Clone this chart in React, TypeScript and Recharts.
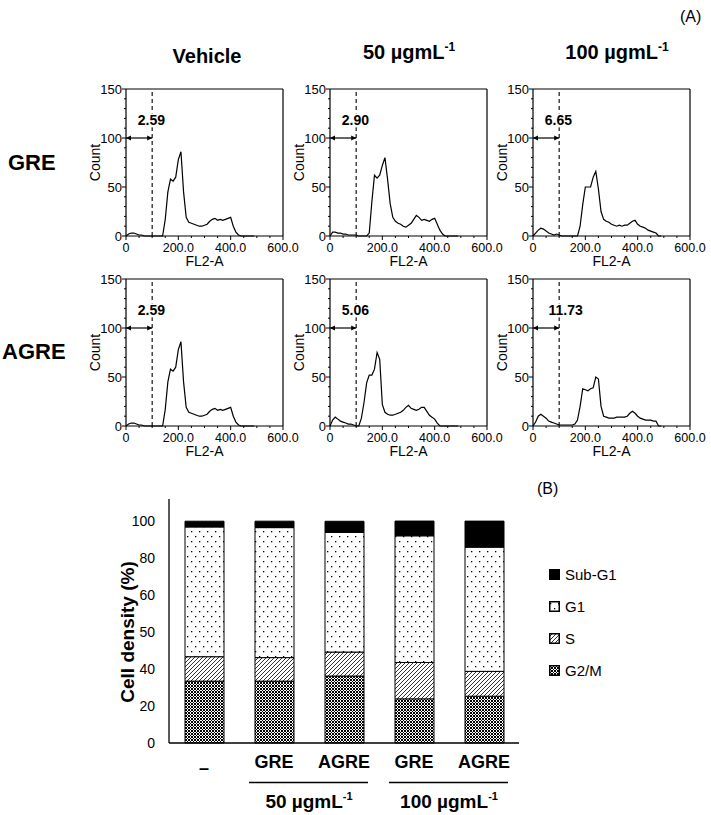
import React from 'react'
import { LineChart, Line, XAxis, YAxis, ReferenceLine, ReferenceDot, BarChart, Bar, Legend } from 'recharts'

const FONT = '"Liberation Sans", Arial, Helvetica, sans-serif'

// FL2-A bins shared by all six histograms
const FL2 = [
  0, 10, 20, 30, 40, 50, 60, 70, 80, 90,
  100, 110, 120, 130, 140, 150, 160, 170, 180, 190,
  200, 210, 220, 230, 240, 250, 260, 270, 280, 290,
  300, 310, 320, 330, 340, 350, 360, 370, 380, 390,
  400, 410, 420, 430, 440, 450, 460, 470, 480, 490,
]

// counts
const VEHICLE = [
  0, 2, 3, 3, 2, 1, 1, 0, 0, 0,
  0, 0, 0, 0, 0, 17, 45, 58, 56, 60,
  78, 86, 45, 19, 14, 13, 12, 11, 10, 10,
  11, 12, 15, 17, 18, 16, 17, 16, 17, 18,
  19, 10, 4, 1, 0, 0, 0, 0, 0, 0,
]
const GRE_50 = [
  0, 4, 4, 3, 3, 2, 2, 1, 1, 1,
  1, 0, 0, 0, 0, 3, 35, 62, 59, 62,
  72, 80, 58, 33, 19, 15, 13, 12, 10, 9,
  11, 13, 17, 21, 19, 16, 17, 16, 15, 17,
  18, 12, 6, 2, 0, 0, 0, 0, 0, 0,
]
const GRE_100 = [
  0, 3, 6, 8, 7, 5, 3, 2, 1, 2,
  1, 0, 0, 0, 0, 0, 0, 0, 10, 32,
  50, 50, 50, 60, 66, 48, 25, 17, 15, 14,
  12, 11, 10, 11, 10, 11, 11, 13, 15, 16,
  12, 10, 9, 8, 6, 5, 4, 3, 0, 0,
]
const AGRE_50 = [
  0, 6, 9, 7, 5, 4, 3, 2, 2, 1,
  0, 0, 8, 24, 44, 52, 52, 58, 75, 68,
  22, 14, 12, 11, 11, 12, 13, 14, 16, 19,
  21, 18, 17, 16, 17, 19, 19, 15, 11, 9,
  7, 3, 0, 0, 0, 0, 0, 0, 0, 0,
]
const AGRE_100 = [
  0, 4, 10, 12, 10, 8, 5, 4, 3, 2,
  1, 1, 1, 1, 1, 1, 2, 6, 20, 38,
  37, 36, 38, 39, 50, 48, 20, 10, 9, 8,
  8, 8, 9, 9, 9, 9, 10, 13, 15, 13,
  10, 8, 7, 6, 6, 6, 5, 5, 0, 0,
]

const PCT_GRE = ['2.59', '2.90', '6.65']
const PCT_AGRE = ['2.59', '5.06', '11.73']

const HIST_Y_TICKS = [0, 10, 20, 30, 40, 50, 60, 70, 80, 90, 100, 110, 120, 130, 140, 150]
const HIST_X_TICKS = [0, 50, 100, 150, 200, 250, 300, 350, 400, 450, 500, 550, 600]

// (B) stacked bars
const CATEGORIES = ['–', 'GRE', 'AGRE', 'GRE', 'AGRE']
const G2M = [27.9, 27.9, 30.2, 19.9, 21.1]
const S_PHASE = [11.0, 10.6, 10.8, 16.4, 11.2]
const G1 = [58.5, 58.6, 53.9, 57.1, 56.0]
const SUB_G1 = [2.59, 2.9, 5.06, 6.65, 11.73]
const BAR_Y_TICKS = [0, 20, 40, 60, 80, 100]
const BAR_Y_LABELS = ['0', '20', '40', '50', '60', '80', '100']
const GROUPS = ['50 µgmL', '100 µgmL']

const COL_LEFT = [126, 330, 533]
const ROW_TOP = [89, 279]
const BAND = 70

function HistYTick(props: any) {
  const { x, y, payload } = props
  const v = payload.value
  const major = v % 50 === 0
  return (
    <g>
      <line x1={x} x2={x - (major ? 4 : 2)} y1={y} y2={y} stroke="#000" />
      {major && (
        <text x={x - 4} y={y} textAnchor="end" dominantBaseline="central" fontSize={13} fontFamily={FONT} fill="#000">
          {v}
        </text>
      )}
    </g>
  )
}

function HistXTick(props: any) {
  const { x, y, payload } = props
  const v = payload.value
  const major = v % 200 === 0
  return (
    <g>
      <line x1={x} x2={x} y1={y} y2={y + (major ? 4 : 2)} stroke="#000" />
      {major && (
        <text x={x} y={y + 12} textAnchor="middle" dominantBaseline="central" fontSize={12.5} fontFamily={FONT} fill="#000">
          {v === 0 ? '0' : v.toFixed(1)}
        </text>
      )}
    </g>
  )
}

const ArrowShape = (p: any) => {
  const { x1, y1, x2, y2 } = p
  return (
    <g>
      <line x1={x1} y1={y1} x2={x2} y2={y2} stroke="#000" strokeWidth={1.2} />
      <path d={`M${x1},${y1} l5,-2.5 l0,5 Z`} fill="#000" />
      <path d={`M${x2},${y2} l-5,-2.5 l0,5 Z`} fill="#000" />
    </g>
  )
}

function Histogram({ values, pct, left, top, labelX = 97 }: { values: number[]; pct: string; left: number; top: number; labelX?: number }) {
  const data = FL2.map((x, i) => ({ x, count: values[i] }))
  return (
    <div style={{ position: 'absolute', left: left - 45, top: top - 10 }}>
      <LineChart width={222} height={192} data={data} margin={{ top: 10, right: 20, left: 0, bottom: 0 }}>
        <XAxis
          dataKey="x"
          type="number"
          domain={[0, 600]}
          ticks={HIST_X_TICKS}
          interval={0}
          tick={HistXTick}
          tickLine={false}
          tickSize={0}
          tickMargin={0}
          height={35}
          axisLine={{ stroke: '#000', strokeWidth: 1.2 }}
          label={(p: any) => {
            const vb = p.viewBox
            return (
              <text x={vb.x + vb.width / 2} y={vb.y + 25} textAnchor="middle" dominantBaseline="central" fontSize={14} fontFamily={FONT} fill="#000">
                FL2-A
              </text>
            )
          }}
        />
        <YAxis
          type="number"
          domain={[0, 150]}
          ticks={HIST_Y_TICKS}
          interval={0}
          tick={HistYTick}
          tickLine={false}
          tickSize={0}
          tickMargin={0}
          width={45}
          axisLine={{ stroke: '#000', strokeWidth: 1.2 }}
          label={(p: any) => {
            const vb = p.viewBox
            const cx = vb.x + vb.width - 31
            const cy = vb.y + vb.height / 2
            return (
              <text x={cx} y={cy} transform={`rotate(-90 ${cx} ${cy})`} textAnchor="middle" dominantBaseline="central" fontSize={14} fontFamily={FONT} fill="#000">
                Count
              </text>
            )
          }}
        />
        <ReferenceLine y={150} stroke="#000" strokeWidth={1.2} />
        <ReferenceLine x={600} stroke="#000" strokeWidth={1.2} />
        <ReferenceLine x={100} stroke="#000" strokeWidth={1.1} strokeDasharray="4 3" />
        <ReferenceLine segment={[{ x: 0, y: 100 }, { x: 100, y: 100 }]} shape={ArrowShape} />
        <ReferenceDot
          x={labelX}
          y={118}
          r={0}
          shape={(p: any) => (
            <g>
              <rect x={p.cx - pct.length * 4.3} y={p.cy - 7} width={pct.length * 8.6} height={14} fill="#fff" />
              <text x={p.cx} y={p.cy} textAnchor="middle" dominantBaseline="central" fontSize={14} fontWeight="bold" fontFamily={FONT} fill="#000">
                {pct}
              </text>
            </g>
          )}
        />
        <Line dataKey="count" type="linear" stroke="#000" strokeWidth={1.2} dot={false} isAnimationActive={false} />
      </LineChart>
    </div>
  )
}

function BarXTick(props: any) {
  const { x, y, payload, index } = props
  const g = index === 1 ? 0 : index === 3 ? 1 : -1
  return (
    <g fontFamily={FONT} fontWeight="bold" fill="#000">
      <text x={x} y={y + (index === 0 ? 31 : 25)} textAnchor="middle" fontSize={18}>
        {payload.value}
      </text>
      {g >= 0 && (
        <g>
          <line x1={x - 25} x2={x + BAND + 24} y1={y + 39.5} y2={y + 39.5} stroke="#000" strokeWidth={1.3} />
          <text x={x + BAND / 2} y={y + 65} textAnchor="middle" fontSize={19}>
            {GROUPS[g]}
            <tspan fontSize={11} dy={-8}>-1</tspan>
          </text>
        </g>
      )}
    </g>
  )
}

const SERIES = [
  { key: 'g2m', name: 'G2/M', fill: 'url(#pat-cross)' },
  { key: 's', name: 'S', fill: 'url(#pat-hatch)' },
  { key: 'g1', name: 'G1', fill: 'url(#pat-dots)' },
  { key: 'sub', name: 'Sub-G1', fill: '#000' },
]

function BarLegend() {
  const items = [...SERIES].reverse()
  return (
    <div style={{ fontFamily: FONT, fontSize: 15, color: '#000' }}>
      {items.map((it) => (
        <div key={it.key} style={{ display: 'flex', alignItems: 'center', height: 32 }}>
          <svg width={11} height={11} style={{ marginRight: 5 }}>
            <rect x={0.75} y={0.75} width={9.5} height={9.5} fill={it.fill} stroke="#000" strokeWidth={1.5} />
          </svg>
          <span>{it.name}</span>
        </div>
      ))}
    </div>
  )
}

function CellCycleBars() {
  const data = CATEGORIES.map((name, i) => ({ name, g2m: G2M[i], s: S_PHASE[i], g1: G1[i], sub: SUB_G1[i] }))
  const labelPos = BAR_Y_LABELS.map((_, i) => (i * 100) / (BAR_Y_LABELS.length - 1))
  return (
    <div style={{ position: 'absolute', left: 90, top: 494 }}>
      <BarChart width={620} height={319} data={data} margin={{ top: 5, right: 191, bottom: 0, left: 0 }} barSize={39}>
        <defs>
          <pattern id="pat-dots" patternUnits="userSpaceOnUse" width={8} height={10}>
            <rect width={8} height={10} fill="#fff" />
            <rect x={1} y={2} width={1.3} height={1.3} fill="#000" />
            <rect x={5} y={7} width={1.3} height={1.3} fill="#000" />
          </pattern>
          <pattern id="pat-hatch" patternUnits="userSpaceOnUse" width={4} height={4}>
            <rect width={4} height={4} fill="#fff" />
            <path d="M-1,1 l2,-2 M0,4 l4,-4 M3,5 l2,-2" stroke="#000" strokeWidth={0.8} />
          </pattern>
          <pattern id="pat-cross" patternUnits="userSpaceOnUse" width={3} height={3}>
            <rect width={3} height={3} fill="#fff" />
            <path d="M0,0 L3,3 M3,0 L0,3" stroke="#000" strokeWidth={1} />
          </pattern>
        </defs>
        <XAxis
          dataKey="name"
          interval={0}
          tick={BarXTick}
          tickLine={false}
          tickSize={0}
          tickMargin={0}
          height={70}
          axisLine={{ stroke: '#000', strokeWidth: 1.3 }}
        />
        <YAxis
          yAxisId="a"
          type="number"
          domain={[0, 110]}
          ticks={BAR_Y_TICKS}
          interval={0}
          tick={false}
          tickSize={5}
          width={5}
          axisLine={{ stroke: '#000', strokeWidth: 1.3 }}
          tickLine={{ stroke: '#000', strokeWidth: 1.2 }}
        />
        <YAxis
          yAxisId="b"
          type="number"
          domain={[0, 110]}
          allowDataOverflow
          ticks={labelPos}
          interval={0}
          width={74}
          axisLine={false}
          tickLine={false}
          tickSize={0}
          tickMargin={9}
          tick={{ fill: '#000', fontSize: 14, fontFamily: FONT }}
          tickFormatter={(_v: number, i: number) => BAR_Y_LABELS[i]}
          label={(p: any) => {
            const vb = p.viewBox
            const cx = vb.x + 37
            const cy = vb.y + vb.height - 111
            return (
              <text x={cx} y={cy} transform={`rotate(-90 ${cx} ${cy})`} textAnchor="middle" dominantBaseline="central" fontSize={19} fontWeight="bold" fontFamily={FONT} fill="#000">
                Cell density (%)
              </text>
            )
          }}
        />
        {SERIES.map((s) => (
          <Bar key={s.key} yAxisId="a" dataKey={s.key} name={s.name} stackId="a" fill={s.fill} stroke="#000" strokeWidth={1} isAnimationActive={false} />
        ))}
        <Legend layout="horizontal" align="center" verticalAlign="middle" content={BarLegend} wrapperStyle={{ left: 459, top: 64, width: 150 }} />
      </BarChart>
    </div>
  )
}

export default function App() {
  return (
    <div style={{ position: 'absolute', left: 0, top: 0, width: 711, height: 815, background: '#fff', fontFamily: FONT }}>
      <svg width={711} height={815} style={{ position: 'absolute', left: 0, top: 0 }} fontFamily={FONT} fill="#000">
        <text x={680} y={22} fontSize={16}>(A)</text>
        <text x={537} y={494} fontSize={16}>(B)</text>
        <text x={207} y={63} fontSize={20} fontWeight="bold" textAnchor="middle">Vehicle</text>
        <text x={409} y={59} fontSize={20} fontWeight="bold" textAnchor="middle">
          50 µgmL<tspan fontSize={12} dy={-8}>-1</tspan>
        </text>
        <text x={617} y={59} fontSize={20} fontWeight="bold" textAnchor="middle">
          100 µgmL<tspan fontSize={12} dy={-8}>-1</tspan>
        </text>
        <text x={8} y={170} fontSize={22} fontWeight="bold">GRE</text>
        <text x={2} y={359} fontSize={22} fontWeight="bold">AGRE</text>
      </svg>
      <Histogram values={VEHICLE} pct={PCT_GRE[0]} left={COL_LEFT[0]} top={ROW_TOP[0]} />
      <Histogram values={GRE_50} pct={PCT_GRE[1]} left={COL_LEFT[1]} top={ROW_TOP[0]} />
      <Histogram values={GRE_100} pct={PCT_GRE[2]} left={COL_LEFT[2]} top={ROW_TOP[0]} />
      <Histogram values={VEHICLE} pct={PCT_AGRE[0]} left={COL_LEFT[0]} top={ROW_TOP[1]} />
      <Histogram values={AGRE_50} pct={PCT_AGRE[1]} left={COL_LEFT[1]} top={ROW_TOP[1]} />
      <Histogram values={AGRE_100} pct={PCT_AGRE[2]} left={COL_LEFT[2]} top={ROW_TOP[1]} labelX={125} />
      <CellCycleBars />
    </div>
  )
}
